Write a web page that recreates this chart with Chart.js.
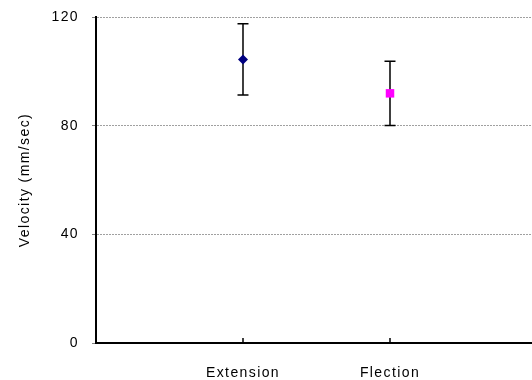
<!DOCTYPE html>
<html>
<head>
<meta charset="utf-8" />
<title>Velocity</title>
<script src="https://cdn.jsdelivr.net/npm/chart.js@4/dist/chart.umd.min.js"></script>
<style>
  body { margin: 0; background: #fff; }
  #wrap { width: 532px; height: 380px; }
</style>
</head>
<body>
<div id="wrap"><canvas id="chart-velocity" width="532" height="380"></canvas></div>
<script>
// data
var categories = ["Extension", "Flection"];
var means = [104.4, 91.9];
var errors = [13.1, 11.8];
var yTicks = [0, 40, 80, 120];
var markerColors = ["#000080", "#ff00ff"];
var markerShapes = ["rectRot", "rect"];
var markerSizes = [5, 6];

var FONT = { family: "'Liberation Sans', Arial, sans-serif", size: 14 };

// wide letter spacing like the original
var spacing = {
  id: "spacing",
  beforeUpdate: function (chart) { chart.ctx.letterSpacing = "1.4px"; },
  beforeDraw: function (chart) { chart.ctx.letterSpacing = "1.4px"; }
};

// error bars + inside category ticks, drawn under the markers
var errorBars = {
  id: "errorBars",
  beforeDatasetsDraw: function (chart) {
    var ctx = chart.ctx, x = chart.scales.x, y = chart.scales.y;
    ctx.save();
    ctx.strokeStyle = "#000";
    ctx.lineWidth = 1.5;
    categories.forEach(function (c, i) {
      var px = x.getPixelForValue(i + 1);
      var top = y.getPixelForValue(means[i] + errors[i]);
      var bot = y.getPixelForValue(means[i] - errors[i]);
      ctx.beginPath();
      ctx.moveTo(px, top); ctx.lineTo(px, bot);
      ctx.moveTo(px - 5.5, top); ctx.lineTo(px + 5.5, top);
      ctx.moveTo(px - 5.5, bot); ctx.lineTo(px + 5.5, bot);
      // tick mark on the category axis
      ctx.moveTo(px, y.bottom); ctx.lineTo(px, y.bottom - 5);
      ctx.stroke();
    });
    ctx.restore();
  }
};

var ctx = document.getElementById("chart-velocity").getContext("2d");
new Chart(ctx, {
  type: "scatter",
  data: {
    datasets: [{
      data: means.map(function (m, i) { return { x: i + 1, y: m }; }),
      pointStyle: markerShapes,
      pointRadius: markerSizes,
      pointHoverRadius: markerSizes,
      backgroundColor: markerColors,
      borderColor: markerColors,
      borderWidth: 0
    }]
  },
  options: {
    responsive: false,
    animation: false,
    events: [],
    layout: { autoPadding: false, padding: { top: 17, right: 0, left: 0, bottom: 0 } },
    plugins: { legend: { display: false }, tooltip: { enabled: false } },
    scales: {
      x: {
        type: "linear",
        min: 0,
        max: 2.966,
        afterBuildTicks: function (s) {
          s.ticks = categories.map(function (c, i) { return { value: i + 1 }; });
        },
        afterFit: function (s) { s.height = 37; s.paddingLeft = 0; s.paddingRight = 0; },
        grid: { display: false },
        border: { color: "#000", width: 2 },
        ticks: {
          padding: 14,
          color: "#000",
          font: FONT,
          maxRotation: 0,
          autoSkip: false,
          callback: function (v) { return categories[v - 1]; }
        }
      },
      y: {
        min: 0,
        max: 120,
        afterBuildTicks: function (s) {
          s.ticks = yTicks.map(function (v) { return { value: v }; });
        },
        afterFit: function (s) { s.width = 96; s.paddingTop = 0; s.paddingBottom = 0; },
        grid: {
          color: function (c) { return c.tick && c.tick.value === 0 ? "rgba(0,0,0,0)" : "#a0a0a0"; },
          tickColor: "#808080",
          tickLength: 4,
          lineWidth: 1
        },
        border: { color: "#000", width: 2, dash: [2, 1] },
        ticks: { padding: 13, color: "#000", font: FONT },
        title: {
          display: true,
          text: "Velocity (mm/sec)",
          color: "#000",
          font: FONT,
          padding: { top: 17, bottom: 0 }
        }
      }
    }
  },
  plugins: [spacing, errorBars]
});
</script>
</body>
</html>
